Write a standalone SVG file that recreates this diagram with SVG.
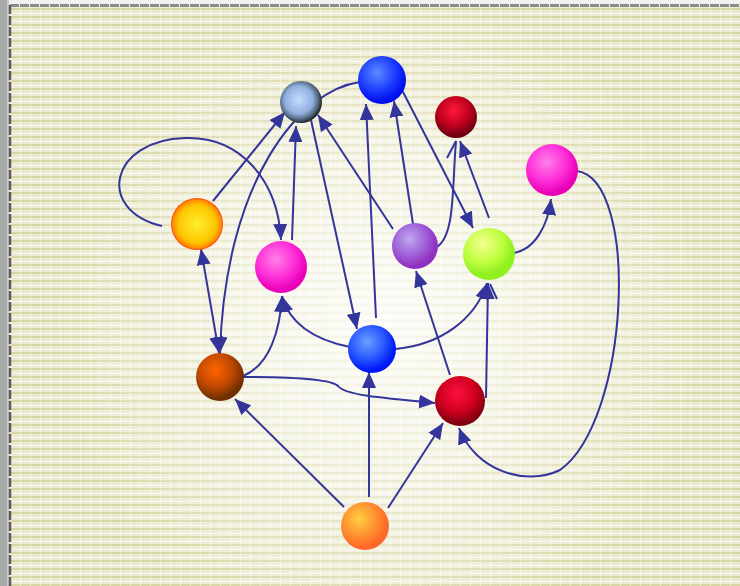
<svg xmlns="http://www.w3.org/2000/svg" width="740" height="586" viewBox="0 0 740 586">
<defs>
<pattern id="bg" width="10" height="8" patternUnits="userSpaceOnUse">
<rect width="10" height="8" fill="#ecebd1"/>
<rect y="0" width="10" height="2" fill="#d8d5a3"/>
<rect y="5" width="10" height="1" fill="#f7f6ea"/>
<rect x="0" width="1" height="8" fill="#ffffff" opacity="0.45"/>
</pattern>
<radialGradient id="glow" cx="380" cy="320" r="330" gradientUnits="userSpaceOnUse">
<stop offset="0" stop-color="#ffffff" stop-opacity="0.85"/>
<stop offset="0.55" stop-color="#ffffff" stop-opacity="0.45"/>
<stop offset="1" stop-color="#ffffff" stop-opacity="0"/>
</radialGradient>
<radialGradient id="gBlueGray" cx="0.45" cy="0.45" r="0.55"><stop offset="0" stop-color="#c8dcff"/><stop offset="0.6" stop-color="#90b0e0"/><stop offset="0.82" stop-color="#5a7088"/><stop offset="1" stop-color="#202830"/></radialGradient>
<radialGradient id="gBlue" cx="0.4" cy="0.35" r="0.6"><stop offset="0" stop-color="#5a8cff"/><stop offset="0.6" stop-color="#2040ff"/><stop offset="1" stop-color="#0010f0"/></radialGradient>
<radialGradient id="gDarkRed" cx="0.45" cy="0.35" r="0.6"><stop offset="0" stop-color="#ff1838"/><stop offset="0.6" stop-color="#c00020"/><stop offset="1" stop-color="#700010"/></radialGradient>
<radialGradient id="gMagenta" cx="0.4" cy="0.35" r="0.6"><stop offset="0" stop-color="#ff80e8"/><stop offset="0.6" stop-color="#ff30d8"/><stop offset="1" stop-color="#e800b8"/></radialGradient>
<radialGradient id="gYellow" cx="0.5" cy="0.5" r="0.5"><stop offset="0" stop-color="#ffee30"/><stop offset="0.7" stop-color="#ffc800"/><stop offset="0.92" stop-color="#ff9000"/><stop offset="1" stop-color="#ff4010"/></radialGradient>
<radialGradient id="gPurple" cx="0.38" cy="0.35" r="0.6"><stop offset="0" stop-color="#c0a8f0"/><stop offset="0.6" stop-color="#a060d8"/><stop offset="1" stop-color="#9030c0"/></radialGradient>
<radialGradient id="gLime" cx="0.38" cy="0.3" r="0.6"><stop offset="0" stop-color="#f4ff90"/><stop offset="0.6" stop-color="#c0ff40"/><stop offset="1" stop-color="#90f020"/></radialGradient>
<radialGradient id="gBlue2" cx="0.4" cy="0.35" r="0.6"><stop offset="0" stop-color="#6aa0ff"/><stop offset="0.6" stop-color="#2858ff"/><stop offset="1" stop-color="#0018f8"/></radialGradient>
<radialGradient id="gBrown" cx="0.4" cy="0.35" r="0.6"><stop offset="0" stop-color="#ff6400"/><stop offset="0.6" stop-color="#c04800"/><stop offset="1" stop-color="#703000"/></radialGradient>
<radialGradient id="gRed" cx="0.45" cy="0.35" r="0.6"><stop offset="0" stop-color="#ff1040"/><stop offset="0.6" stop-color="#d00020"/><stop offset="1" stop-color="#800010"/></radialGradient>
<radialGradient id="gOrange" cx="0.38" cy="0.35" r="0.6"><stop offset="0" stop-color="#ffd040"/><stop offset="0.6" stop-color="#ff9030"/><stop offset="1" stop-color="#ff6828"/></radialGradient>
<marker id="ah" markerWidth="17" markerHeight="14" refX="16" refY="7" orient="auto-start-reverse" markerUnits="userSpaceOnUse">
<path d="M0,0 L16,7 L0,14 Z" fill="#33359a"/>
</marker>
<style>
.e{fill:none;stroke:#33359a;stroke-width:2}
.a{marker-end:url(#ah)}
.s{marker-start:url(#ah)}
</style>
</defs>
<g id="background">
<rect width="740" height="586" fill="url(#bg)"/>
<rect width="740" height="586" fill="url(#glow)"/>
<rect x="0" y="0" width="740" height="4" fill="#f2f2ee"/>
<line x1="10" y1="5.5" x2="740" y2="5.5" stroke="#8c8c8c" stroke-width="3" stroke-dasharray="9,1"/>
<rect x="0" y="0" width="9" height="586" fill="#a9a9a9"/>
<rect x="7" y="0" width="2" height="586" fill="#c8c8d0"/>
<line x1="10" y1="5" x2="10" y2="586" stroke="#5c5c5c" stroke-width="2.5" stroke-dasharray="9,2"/>
</g>
<g id="connectors">
<path class="e a" d="M213,201 L285,112"/>
<path class="e a" d="M162,226 C95,210 110,140 185,138 C240,136 278,180 281,240"/>
<path class="e a s" d="M201,249 L219,353"/>
<path class="e a" d="M360,82 C300,90 225,180 220,353"/>
<path class="e a" d="M292,240 L296,126"/>
<path class="e a" d="M311,120 L357,329"/>
<path class="e a" d="M393,229 L318,115"/>
<path class="e a" d="M376,318 L366,104"/>
<path class="e a" d="M413,224 L394,101"/>
<path class="e a" d="M402,90 L473,228"/>
<path class="e a" d="M489,218 L460,141"/>
<path class="e" d="M437,247 C455,235 452,190 456,141"/>
<path class="e" d="M447,158 L456,141"/>
<path class="e a" d="M513,253 C535,250 548,225 551,199"/>
<path class="e a" d="M577,171 C640,180 630,420 560,470 C525,487 475,470 459,428"/>
<path class="e a" d="M450,375 L416,271"/>
<path class="e a" d="M486,398 L488,283"/>
<path class="e a" d="M395,349 C440,345 475,320 487,283"/>
<path class="e" d="M490,284 L497,299"/>
<path class="e a" d="M350,347 C315,340 290,325 282,296"/>
<path class="e a" d="M243,376 C270,365 280,330 282,296"/>
<path class="e a" d="M243,377 C280,377 330,378 338,386 C345,395 380,398 435,403"/>
<path class="e a" d="M344,507 L235,399"/>
<path class="e a" d="M369,497 L369,372"/>
<path class="e a" d="M388,508 L443,423"/>
</g>
<g id="n1"><circle cx="301" cy="102" r="21" fill="url(#gBlueGray)"/></g>
<g id="n2"><circle cx="382" cy="80" r="24" fill="url(#gBlue)"/></g>
<g id="n3"><circle cx="456" cy="117" r="21" fill="url(#gDarkRed)"/></g>
<g id="n4"><circle cx="552" cy="170" r="26" fill="url(#gMagenta)"/></g>
<g id="n5"><circle cx="197" cy="224" r="26" fill="url(#gYellow)"/></g>
<g id="n6"><circle cx="281" cy="267" r="26" fill="url(#gMagenta)"/></g>
<g id="n7"><circle cx="415" cy="246" r="23" fill="url(#gPurple)"/></g>
<g id="n8"><circle cx="489" cy="254" r="26" fill="url(#gLime)"/></g>
<g id="n9"><circle cx="372" cy="349" r="24" fill="url(#gBlue2)"/></g>
<g id="n10"><circle cx="220" cy="377" r="24" fill="url(#gBrown)"/></g>
<g id="n11"><circle cx="460" cy="401" r="25" fill="url(#gRed)"/></g>
<g id="n12"><circle cx="365" cy="526" r="24" fill="url(#gOrange)"/></g>
</svg>
